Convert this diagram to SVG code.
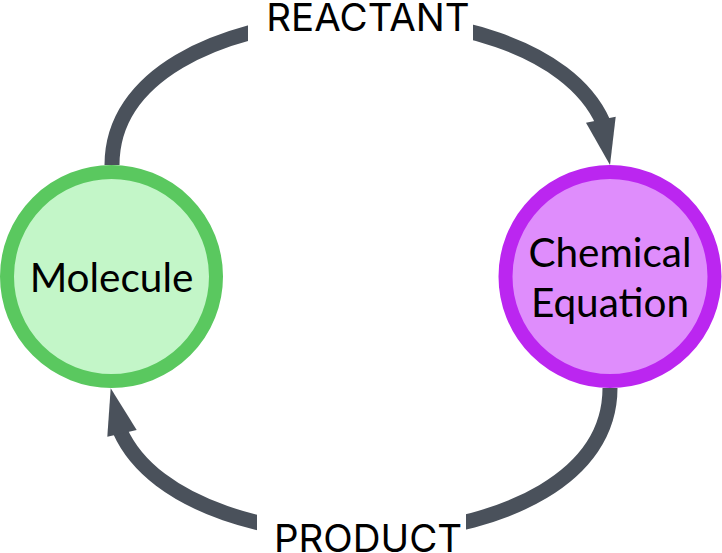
<svg xmlns="http://www.w3.org/2000/svg" width="722" height="553" viewBox="0 0 722 553">
<style>
.edge{fill:none;stroke:#4a515b;stroke-width:15;stroke-linecap:butt}
.head{fill:#4a515b}
.lblbg{fill:#ffffff}
.elabel{font-family:Inter,"Liberation Sans",sans-serif;font-size:38.5px;fill:#000;text-anchor:middle}
.nlabel{font-family:Lato,"Liberation Sans",sans-serif;font-size:40.5px;fill:#000;text-anchor:middle}
</style>
<rect width="722" height="553" fill="#ffffff"/>
<g id="connectors">
<g id="edge-reactant">
<path class="edge" d="M112,165 C112,-14.4 535.2,-28.75 602.9,121.95"/>
<polygon class="head" points="586,122.7 615.7,116.7 610,165"/>
<rect class="lblbg" x="248" y="0" width="225" height="50"/>
<text class="elabel" x="368" y="31">REACTANT</text>
</g>
<g id="edge-product">
<path class="edge" d="M610,388 C610,567.4 187.6,581.75 120.1,431.05"/>
<polygon class="head" points="107.3,436.7 136.7,430 110.7,388.3"/>
<rect class="lblbg" x="257" y="500" width="209" height="53"/>
<text class="elabel" x="368" y="551.5">PRODUCT</text>
</g>
</g>
<g id="node-molecule">
<circle cx="111.5" cy="276.5" r="104.5" fill="#c3f6c8" stroke="#5ac85f" stroke-width="14"/>
<text class="nlabel" x="111.5" y="292">Molecule</text>
</g>
<g id="node-chemical-equation">
<circle cx="610" cy="276.5" r="104.5" fill="#df8dfc" stroke="#bb26f0" stroke-width="14"/>
<text class="nlabel" x="610" y="267">Chemical</text>
<text class="nlabel" x="610" y="317">Equation</text>
</g>
</svg>
